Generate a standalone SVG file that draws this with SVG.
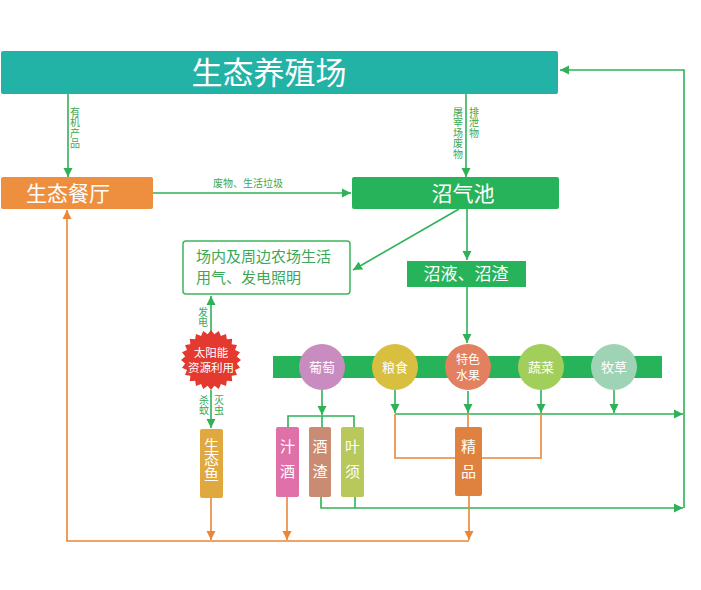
<svg xmlns="http://www.w3.org/2000/svg" width="701" height="590" viewBox="0 0 701 590">
<defs>
<marker id="ag" markerUnits="userSpaceOnUse" markerWidth="10" markerHeight="10" refX="9" refY="5" orient="auto"><path d="M0,0.5 L9,5 L0,9.5 z" fill="#2fb257"/></marker>
<marker id="ao" markerUnits="userSpaceOnUse" markerWidth="10" markerHeight="10" refX="9" refY="5" orient="auto"><path d="M0,0.5 L9,5 L0,9.5 z" fill="#ec8536"/></marker>
</defs>
<style>
text{font-family:"Noto Sans CJK SC","Noto Sans",sans-serif}
.g{fill:none;stroke:#2fb257;stroke-width:1.6}
.o{fill:none;stroke:#ec8536;stroke-width:1.6}
.lbl{fill:#3aa856;font-size:10px}
.vt{writing-mode:vertical-rl;letter-spacing:0.5px}
.w{fill:#fff;text-anchor:middle}
.wv{fill:#fff;font-size:15px;writing-mode:vertical-rl;letter-spacing:10px}
.c{font-size:13px}
</style>
<rect width="701" height="590" fill="#fff"/>

<g id="connectors">
<path class="g" d="M68,94 V177" marker-end="url(#ag)"/>
<path class="g" d="M153,193 H351" marker-end="url(#ag)"/>
<path class="g" d="M466,94 V177" marker-end="url(#ag)"/>
<path class="g" d="M684,508 V70 H560" marker-end="url(#ag)"/>
<path class="g" d="M459,209 L353,270" marker-end="url(#ag)"/>
<path class="g" d="M467,209 V260" marker-end="url(#ag)"/>
<path class="g" d="M467,287 V343" marker-end="url(#ag)"/>
<path class="g" d="M322,390 V415" marker-end="url(#ag)"/>
<path class="g" d="M288,427 V416 H354 V427 M322,416 V427"/>
<path class="g" d="M395,390 V413" marker-end="url(#ag)"/>
<path class="g" d="M468,391 V413" marker-end="url(#ag)"/>
<path class="g" d="M541,390 V413" marker-end="url(#ag)"/>
<path class="g" d="M614,390 V413" marker-end="url(#ag)"/>
<path class="g" d="M395,414 H683" marker-end="url(#ag)"/>
<path class="g" d="M321,497 V508 H683" marker-end="url(#ag)"/>
<path class="g" d="M355,497 V508"/>
<path class="g" d="M211,331 V296" marker-end="url(#ag)"/>
<path class="g" d="M211,390 V428" marker-end="url(#ag)"/>
<path class="o" d="M468,414 V427"/>
<path class="o" d="M395,414 V458 H455 M541,414 V458 H482"/>
<path class="o" d="M211,498 V540" marker-end="url(#ao)"/>
<path class="o" d="M287,497 V540" marker-end="url(#ao)"/>
<path class="o" d="M469,496 V540" marker-end="url(#ao)"/>
<path class="o" d="M469,541 H67 V210" marker-end="url(#ao)"/>
<text class="lbl vt" x="75" y="107">有机产品</text>
<text class="lbl vt" x="458" y="107">屠宰场废物</text>
<text class="lbl vt" x="474" y="107">排泄物</text>
<text class="lbl" x="248" y="187" text-anchor="middle">废物、生活垃圾</text>
<text class="lbl vt" x="203" y="307">发电</text>
<text class="lbl vt" x="204" y="395">杀蚊</text>
<text class="lbl vt" x="219" y="395">灭虫</text>
</g>

<g id="farm"><rect x="1" y="51" width="557" height="43" rx="2" fill="#22b2a6"/><text class="w" x="269" y="84" font-size="31">生态养殖场</text></g>
<g id="restaurant"><rect x="1" y="177" width="152" height="32" rx="2" fill="#ee8f3f"/><text class="w" x="68" y="201" font-size="21">生态餐厅</text></g>
<g id="biogas"><rect x="352" y="177" width="207" height="32" rx="2" fill="#27b35a"/><text class="w" x="463" y="201" font-size="21">沼气池</text></g>
<g id="usage"><rect x="183" y="241" width="167" height="53" rx="3" fill="#fff" stroke="#3cb55a" stroke-width="1.5"/><text x="196" y="262" font-size="15" fill="#3aa856">场内及周边农场生活</text><text x="196" y="283" font-size="15" fill="#3aa856">用气、发电照明</text></g>
<g id="residue"><rect x="407" y="261" width="119" height="26" fill="#27b35a"/><text class="w" x="466" y="280" font-size="17">沼液、沼渣</text></g>
<g id="band"><rect x="273" y="356" width="389" height="22" fill="#27b35a"/></g>
<g id="grape"><circle cx="322" cy="367" r="23" fill="#c98cc0"/><text class="w c" x="322" y="372">葡萄</text></g>
<g id="grain"><circle cx="395" cy="367" r="23" fill="#d8bf3f"/><text class="w c" x="395" y="372">粮食</text></g>
<g id="fruit"><circle cx="468" cy="367" r="23" fill="#e2805f"/><text class="w" x="468" y="363.5" font-size="12">特色</text><text class="w" x="468" y="379.5" font-size="12">水果</text></g>
<g id="veg"><circle cx="541" cy="367" r="23" fill="#a2cf5b"/><text class="w c" x="541" y="372">蔬菜</text></g>
<g id="grass"><circle cx="614" cy="367" r="23" fill="#9fd3b6"/><text class="w c" x="614" y="372">牧草</text></g>
<g id="solar"><polygon fill="#e3392f" points="241,360 236.78,363.39 239.98,367.76 235.02,369.95 236.98,375 231.63,375.83 232.21,381.21 226.83,380.63 226,385.98 220.95,384.02 218.76,388.98 214.39,385.78 211,390 207.61,385.78 203.24,388.98 201.05,384.02 196,385.98 195.17,380.63 189.79,381.21 190.37,375.83 185.02,375 186.98,369.95 182.02,367.76 185.22,363.39 181,360 185.22,356.61 182.02,352.24 186.98,350.05 185.02,345 190.37,344.17 189.79,338.79 195.17,339.37 196,334.02 201.05,335.98 203.24,331.02 207.61,334.22 211,330 214.39,334.22 218.76,331.02 220.95,335.98 226,334.02 226.83,339.37 232.21,338.79 231.63,344.17 236.98,345 235.02,350.05 239.98,352.24 236.78,356.61"/><text class="w" x="211" y="356.5" font-size="11.5">太阳能</text><text class="w" x="211" y="371.5" font-size="11.5">资源利用</text></g>
<g id="fish"><rect x="200" y="429" width="23" height="69" rx="2" fill="#e0a940"/><text class="wv" x="211.5" y="437.5" style="letter-spacing:-0.5px">生态鱼</text></g>
<g id="juice"><rect x="276" y="427" width="23" height="70" rx="2" fill="#e070a8"/><text class="wv" x="287.5" y="438.5">汁酒</text></g>
<g id="lees"><rect x="309" y="427" width="22" height="70" rx="2" fill="#c98c72"/><text class="wv" x="320" y="438.5">酒渣</text></g>
<g id="leaf"><rect x="341" y="427" width="23" height="70" rx="2" fill="#b8c85a"/><text class="wv" x="352.5" y="438.5">叶须</text></g>
<g id="premium"><rect x="455" y="427" width="27" height="69" rx="2" fill="#df8240"/><text class="wv" x="468.5" y="438.5">精品</text></g>
</svg>
